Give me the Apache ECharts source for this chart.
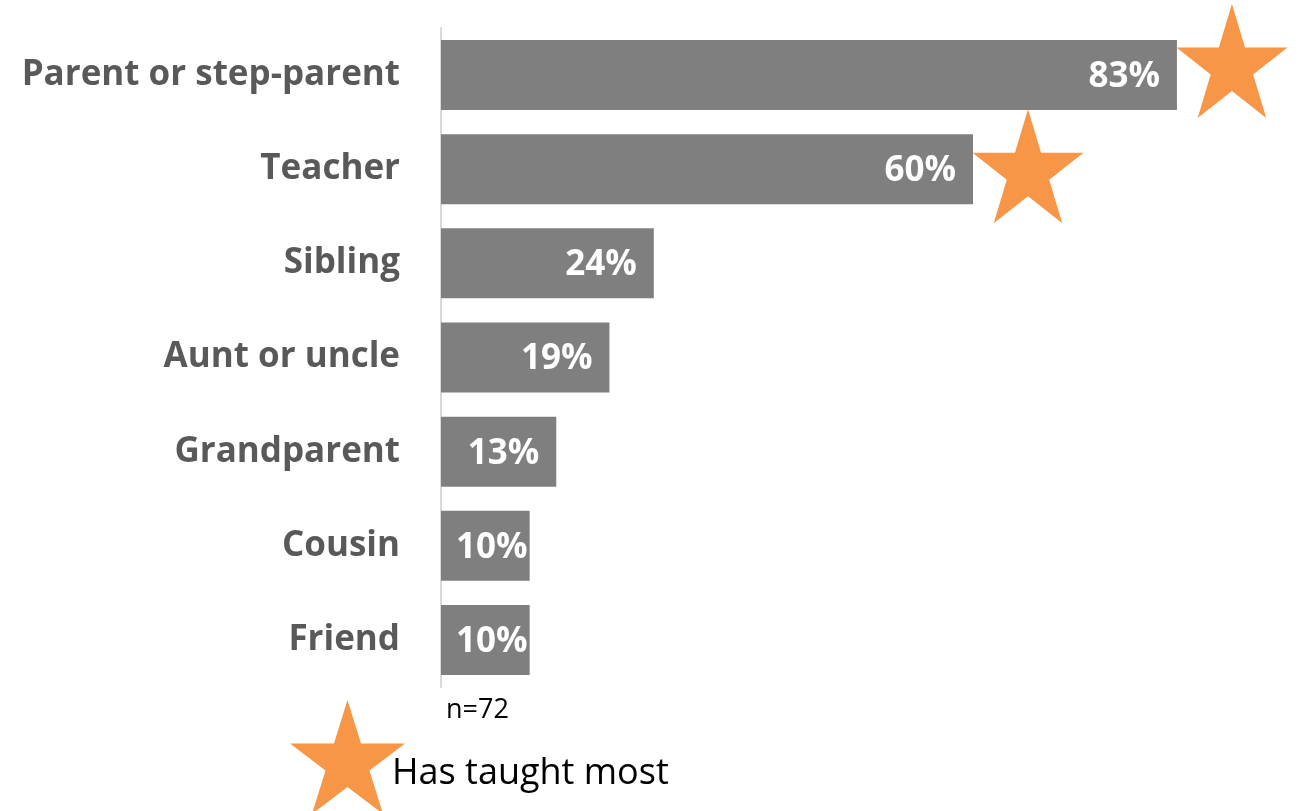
<!DOCTYPE html>
<html lang="en">
<head>
    <meta charset="UTF-8">
    <title>Who has taught</title>
    <style>
        * { margin: 0; padding: 0; }
        html, body, #chart { width: 1301px; height: 811px; overflow: hidden; background: #fff; }
    </style>
</head>
<body>
    <div id="chart"></div>
    <script src="https://cdn.jsdelivr.net/npm/echarts@6/dist/echarts.min.js"></script>
    <script>
        // data (percent of n=72)
        const categories = ['Parent or step-parent', 'Teacher', 'Sibling', 'Aunt or uncle', 'Grandparent', 'Cousin', 'Friend'];
        const values = [83, 60, 24, 19, 13, 10, 10];
        const taughtMost = ['Parent or step-parent', 'Teacher'];

        // five-point star, bbox x 2.4..97.6, y 0..90.5
        const starPts = [[50, 0], [61.2, 34.5], [97.6, 34.5], [68.2, 55.9], [79.4, 90.5],
            [50, 69.1], [20.6, 90.5], [31.8, 55.9], [2.4, 34.5], [38.8, 34.5]];
        const starShape = 'M' + starPts.map(p => p.join(',')).join(' L') + ' Z';
        const font = '"Open Sans", sans-serif';
        const orange = '#f79646';
        const starOffsets = [[55, -14], [55, -3]];

        // star polygon fitted into a box (used for the legend key)
        function starInBox(x, y, w, h) {
            return starPts.map(p => [x + (p[0] - 2.4) / 95.2 * w, y + p[1] / 90.5 * h]);
        }

        let barData = values.map(function(v) {
            let item = { value: v };
            // short bars: label pushed against the left side
            if (v <= 10) {
                item.label = { position: 'insideLeft', distance: 15 };
            }
            return item;
        });

        let starData = taughtMost.map(function(name, i) {
            return {
                value: [values[categories.indexOf(name)], name],
                symbolOffset: starOffsets[i]
            };
        });

        let chart = echarts.init(document.getElementById('chart'));
        chart.setOption({
            animation: false,
            grid: { left: 441, right: 62, top: 28, height: 659 },
            xAxis: {
                type: 'value', min: 0, max: 90, show: false
            },
            yAxis: {
                type: 'category',
                inverse: true,
                data: categories,
                axisLine: { show: true, lineStyle: { color: '#d9d9d9', width: 2 } },
                axisTick: { show: false },
                axisLabel: {
                    color: '#595959', fontSize: 35, fontWeight: 'bold', fontFamily: font, margin: 41,
                    padding: [5, 0, 0, 0]
                }
            },
            graphic: [{
                type: 'text', left: 446, top: 697,
                style: { text: 'n=72', fontSize: 27, fontFamily: font, fill: '#000' }
            }, {
                // legend: star + caption
                type: 'polygon',
                shape: { points: starInBox(290, 700, 115, 114) },
                style: { fill: orange }
            }, {
                type: 'text', left: 392, top: 756,
                style: { text: 'Has taught most', fontSize: 36, fontFamily: font, fill: '#000' }
            }],
            series: [{
                type: 'bar',
                data: barData,
                barWidth: 70,
                itemStyle: { color: '#7f7f7f' },
                label: {
                    show: true, position: 'insideRight', distance: 17, offset: [0, 2],
                    formatter: '{c}%', color: '#fff', fontSize: 35, fontWeight: 'bold', fontFamily: font
                },
                z: 2
            }, {
                name: 'Has taught most',
                type: 'scatter',
                data: starData,
                symbol: 'path://' + starShape,
                symbolSize: [111, 114],
                itemStyle: { color: orange, opacity: 1 },
                z: 3
            }]
        });
    </script>
</body>
</html>
